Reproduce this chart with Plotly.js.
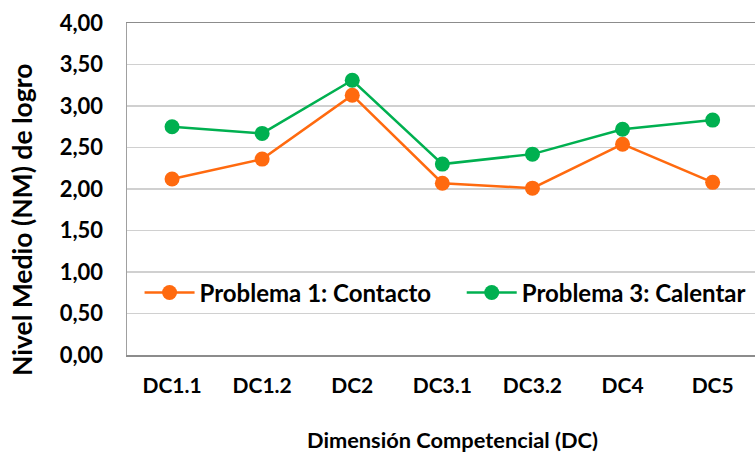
<!DOCTYPE html>
<html>
<head>
<meta charset="utf-8">
<script src="https://cdn.plot.ly/plotly-3.0.1.min.js"></script>
<style>html,body{margin:0;padding:0;background:#fff;}#chart{width:755px;height:453px;}</style>
</head>
<body>
<div id="chart"></div>
<script>
var categories = ["DC1.1", "DC1.2", "DC2", "DC3.1", "DC3.2", "DC4", "DC5"];
var problema1 = [2.12, 2.36, 3.13, 2.07, 2.01, 2.54, 2.08];
var problema3 = [2.75, 2.67, 3.31, 2.30, 2.42, 2.72, 2.83];
var seriesNames = ["Problema 1: Contacto", "Problema 3: Calentar"];
var yTicks = [0, 0.5, 1, 1.5, 2, 2.5, 3, 3.5, 4];
var xTitle = "Dimensión Competencial (DC)";
var yTitle = "Nivel Medio (NM) de logro";

var fontFam = "Lato, 'Open Sans', sans-serif";
function f(sz) { return {family: fontFam, size: sz, color: "#000", weight: "bold"}; }
var traces = [
  {x: categories, y: problema1, name: seriesNames[0], type: "scatter", mode: "lines+markers",
   legend: "legend",
   line: {color: "#FF6A0F", width: 2.5}, marker: {color: "#FF6A0F", size: 15}},
  {x: categories, y: problema3, name: seriesNames[1], type: "scatter", mode: "lines+markers",
   legend: "legend2",
   line: {color: "#00B050", width: 2.5}, marker: {color: "#00B050", size: 15}}
];
var legBase = {orientation: "h", xanchor: "left", y: 0.187, yanchor: "middle",
  bgcolor: "rgba(0,0,0,0)", font: f(24), itemwidth: 50};
var layout = {
  width: 755, height: 453,
  margin: {l: 127, r: 0, t: 23, b: 98},
  paper_bgcolor: "#fff", plot_bgcolor: "#fff",
  separators: ",.",
  font: f(18),
  showlegend: true,
  legend: Object.assign({}, legBase, {x: 0.02}),
  legend2: Object.assign({}, legBase, {x: 0.533}),
  xaxis: {type: "category", range: [-0.5, 6.47], showgrid: false, zeroline: false,
    showline: true, linecolor: "#8c8c8c", linewidth: 1.5, mirror: true,
    ticks: "", ticklabelstandoff: 11,
    tickfont: f(21)},
  yaxis: {range: [0, 4], tickvals: yTicks, tickformat: ".2f", showgrid: true,
    gridcolor: "#D0D0D0", gridwidth: 1.5, zeroline: false,
    showline: true, linecolor: "#a0a0a0", linewidth: 1.5, ticks: "", ticklabelstandoff: 18,
    tickfont: f(22)},
  annotations: [
    {text: xTitle, xref: "paper", yref: "paper", x: 0.519, y: -0.256,
     xanchor: "center", yanchor: "middle", showarrow: false, font: f(21.8)},
    {text: yTitle, xref: "paper", yref: "paper", x: -0.167, y: 0.407, textangle: -90,
     xanchor: "center", yanchor: "middle", showarrow: false, font: f(26.5)}
  ]
};
Plotly.newPlot("chart", traces, layout, {displayModeBar: false, staticPlot: true});
</script>
</body>
</html>
